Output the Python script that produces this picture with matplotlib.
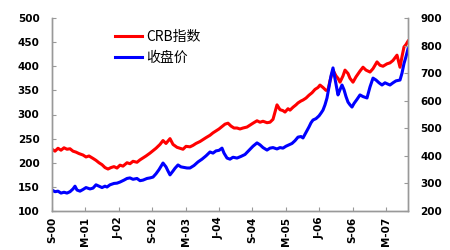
import matplotlib
matplotlib.use("Agg")
import matplotlib.pyplot as plt

plt.rcParams['font.family'] = ['Noto Sans CJK SC', 'DejaVu Sans']

tick_labels = ["S-00", "M-01", "J-02", "S-02", "M-03", "J-04", "S-04", "M-05", "J-06", "S-06", "M-07"]

# time position in tick-interval units
crb_x = [52,55,58,61,64,67,70,73,76,79,83,86,89,93,96,99,102,105,108,111,114,117,120,123,127,130,133,137,140,143,146,150,153,156,160,163,166,170,173,177,180,183,186,190,193,196,200,203,206,210,213,216,219,222,225,228,231,234,237,240,243,247,250,253,257,260,263,267,270,273,275,277,280,283,285,288,290,293,296,298,301,303,306,309,312,315,318,320,323,326,328,330,333,336,338,340,343,345,348,350,353,356,360,363,366,370,373,377,380,383,387,390,393,397,400,402,404,406,408]
crb_v = [228,224,230,226,231,228,229,224,222,219,216,212,214,209,205,200,196,190,187,190,192,189,195,193,200,198,203,201,206,210,214,220,225,230,238,246,240,250,238,232,230,228,234,233,236,240,244,248,252,257,262,266,270,275,280,282,276,272,272,270,272,274,278,282,287,284,286,283,284,290,305,320,310,308,305,312,309,315,320,324,328,330,334,340,345,352,356,361,356,350,351,370,392,380,375,367,380,392,385,375,367,378,390,398,392,388,395,409,402,400,405,407,412,423,398,420,440,445,452]

price_x = [52,55,58,61,64,67,70,73,75,77,80,83,86,90,93,96,99,102,105,107,110,114,117,120,124,127,130,133,137,140,143,147,150,153,156,159,163,166,168,170,173,175,178,181,184,187,190,194,198,202,206,210,213,216,219,222,224,227,230,233,237,241,245,249,253,257,260,263,267,270,273,277,280,283,286,289,292,295,298,301,303,306,309,311,313,316,319,321,323,325,327,329,331,333,335,337,338,340,342,344,346,348,350,352,354,357,360,363,367,370,373,376,379,382,385,388,390,393,396,400,402,404,406,408]
price_v = [276,270,272,265,268,265,270,280,290,276,272,278,285,280,283,295,290,285,290,287,295,300,301,305,312,318,320,315,318,310,312,318,320,323,335,350,374,360,345,331,345,355,367,360,358,356,356,365,378,388,400,414,410,418,420,428,410,392,388,395,392,398,405,420,435,447,440,430,421,428,430,425,430,428,435,440,445,455,468,470,465,485,505,520,530,535,545,555,566,585,610,650,690,719,680,640,621,640,657,640,615,595,585,577,590,605,621,615,610,650,682,675,665,657,665,660,657,665,672,675,700,735,760,788]

def to_t(xs):
    return [(x - 52) / 33.4 for x in xs]

fig = plt.figure(figsize=(4.5, 2.5), dpi=100)
ax = fig.add_axes([52/450, 1 - 211/250, (408-52)/450, (211-18)/250])
ax2 = ax.twinx()

l1, = ax.plot(to_t(crb_x), crb_v, color='#ff0000', lw=2.2, label='CRB指数')
l2, = ax2.plot(to_t(price_x), price_v, color='#0000ff', lw=2.2, label='收盘价')

ax.set_xlim(0, (408 - 52) / 33.4)
ax.set_ylim(100, 500)
ax2.set_ylim(200, 900)
ax.set_yticks(range(100, 501, 50))
ax2.set_yticks(range(200, 901, 100))
ax.set_xticks(range(len(tick_labels)))
ax.set_xticklabels(tick_labels, rotation=90, fontsize=6.3, fontweight='bold', family='DejaVu Sans')

for a in (ax, ax2):
    a.spines['top'].set_visible(False)
    for s in ('left', 'right', 'bottom'):
        a.spines[s].set_color('#999999')
        a.spines[s].set_linewidth(1.0)
    a.tick_params(direction='in', length=3, color='#999999', labelsize=7.5, pad=9)
for lab in ax.get_yticklabels() + ax2.get_yticklabels():
    lab.set_fontweight('bold')
    lab.set_family('DejaVu Sans')
ax.tick_params(axis='x', pad=4)
ax.patch.set_visible(False)

fig.legend([l1, l2], ['CRB指数', '收盘价'], loc='upper left', bbox_to_anchor=(102/450, 1 - 17/250),
           frameon=False, fontsize=10, handlelength=2.0, handletextpad=0.3, labelspacing=0.5)

fig.savefig('out.png', dpi=100)
